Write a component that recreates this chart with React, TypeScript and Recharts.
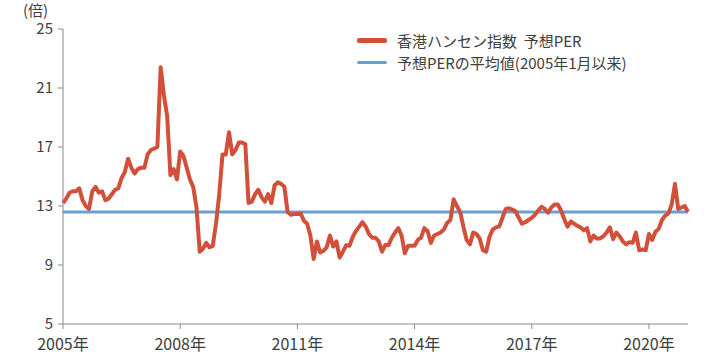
import { LineChart, Line, XAxis, YAxis } from 'recharts';

// monthly forward PER, Jan 2005 .. Jan 2021
const perValues = [
  13.2, 13.5, 13.9, 14.0, 14.0, 14.2, 13.4, 13.0, 12.8, 14.0, 14.3, 13.9,
  14.0, 13.4, 13.5, 13.8, 14.1, 14.2, 14.9, 15.3, 16.2, 15.6, 15.2, 15.5,
  15.6, 15.6, 16.5, 16.8, 16.9, 17.0, 22.4, 20.5, 19.1, 15.1, 15.5, 14.8,
  16.7, 16.4, 15.6, 14.8, 14.3, 12.9, 9.9, 10.1, 10.5, 10.2, 10.3, 11.8,
  13.8, 16.5, 16.5, 18.0, 16.5, 16.8, 17.3, 17.3, 17.2, 13.2, 13.3, 13.8,
  14.1, 13.6, 13.3, 13.8, 13.2, 14.4, 14.6, 14.5, 14.3, 12.6, 12.4, 12.45,
  12.45, 12.5, 12.0, 11.8, 11.0, 9.4, 10.6, 9.85, 9.95, 10.2, 11.0, 10.25,
  10.6, 9.5, 9.9, 10.35, 10.3, 10.9, 11.3, 11.6, 11.9, 11.6, 11.1, 10.85,
  10.85, 10.6, 9.9, 10.35, 10.35, 10.85, 11.2, 11.5, 11.0, 9.8, 10.3, 10.3,
  10.3, 10.7, 10.85, 11.5, 11.3, 10.5, 11.0, 11.1, 11.2, 11.4, 11.85, 12.05,
  13.45, 13.0, 12.6, 11.6, 10.7, 10.4, 11.2, 11.1, 10.8, 10.0, 9.9, 10.9,
  11.4, 11.55, 11.6, 12.2, 12.8, 12.85, 12.75, 12.65, 12.2, 11.8, 11.9, 12.05,
  12.2, 12.4, 12.7, 12.95, 12.8, 12.55, 12.9, 13.1, 13.1, 12.7, 12.1, 11.6,
  11.95, 11.8, 11.65, 11.55, 11.35, 11.5, 10.6, 11.0, 10.8, 10.8, 10.95, 11.2,
  11.55, 10.75, 11.2, 10.95, 10.6, 10.4, 10.55, 10.5, 11.2, 10.0, 10.05, 10.0,
  11.1, 10.7, 11.25, 11.45, 12.05, 12.35, 12.5, 13.1, 14.5, 12.8, 12.9, 13.0,
  12.6,
];
const avgPer = 12.6;

const yearTicks = [0, 36, 72, 108, 144, 180];
const yearLabels = ['2005年', '2008年', '2011年', '2014年', '2017年', '2020年'];
const yTicks = [5, 9, 13, 17, 21, 25];

const seriesNames = ['香港ハンセン指数  予想PER', '予想PERの平均値(2005年1月以来)'];
const RED = '#d2503a';
const BLUE = '#6a9fd4';
const FONT = '"Noto Sans CJK JP", "Noto Sans", sans-serif';

const data = perValues.map((v, i) => ({ m: i, per: v, avg: avgPer }));

function LegendBox() {
  const rows = [
    { name: seriesNames[0], color: RED, w: 5 },
    { name: seriesNames[1], color: BLUE, w: 3 },
  ];
  return (
    <div
      style={{
        position: 'absolute',
        left: 357,
        top: 29,
        fontFamily: FONT,
        fontSize: 15,
        color: '#404040',
      }}
    >
      {rows.map((r) => (
        <div key={r.name} style={{ display: 'flex', alignItems: 'center', height: 22 }}>
          <span
            style={{
              display: 'inline-block',
              width: 30,
              height: r.w,
              background: r.color,
              borderRadius: 2,
              marginRight: 10,
            }}
          />
          <span style={{ whiteSpace: 'pre' }}>{r.name}</span>
        </div>
      ))}
    </div>
  );
}

export default function App() {
  return (
    <div style={{ position: 'absolute', left: 0, top: 0, width: 714, height: 354, background: '#fff' }}>
      <LineChart
        width={714}
        height={354}
        data={data}
        margin={{ top: 29, right: 26, left: 0, bottom: 0 }}
      >
        <XAxis
          dataKey="m"
          type="number"
          domain={[0, 192]}
          ticks={yearTicks}
          tickFormatter={(v: number) => yearLabels[yearTicks.indexOf(v)] ?? ''}
          height={30}
          stroke="#888"
          tickSize={5}
          tickMargin={10}
          tick={{ fill: '#404040', fontSize: 16, fontFamily: FONT }}
          interval={0}
        />
        <YAxis
          domain={[5, 25]}
          ticks={yTicks}
          width={63}
          stroke="#888"
          tickSize={5}
          tickMargin={5}
          tick={{ fill: '#404040', fontSize: 15, fontFamily: FONT }}
          interval={0}
        />
        <Line
          dataKey="avg"
          stroke={BLUE}
          strokeWidth={3}
          dot={false}
          isAnimationActive={false}
        />
        <Line
          dataKey="per"
          stroke={RED}
          strokeWidth={4}
          dot={false}
          strokeLinejoin="round"
          isAnimationActive={false}
        />
      </LineChart>
      <div
        style={{
          position: 'absolute',
          left: 23,
          top: 2,
          fontFamily: FONT,
          fontSize: 15,
          lineHeight: '15px',
          color: '#404040',
        }}
      >
        (倍)
      </div>
      <LegendBox />
    </div>
  );
}
